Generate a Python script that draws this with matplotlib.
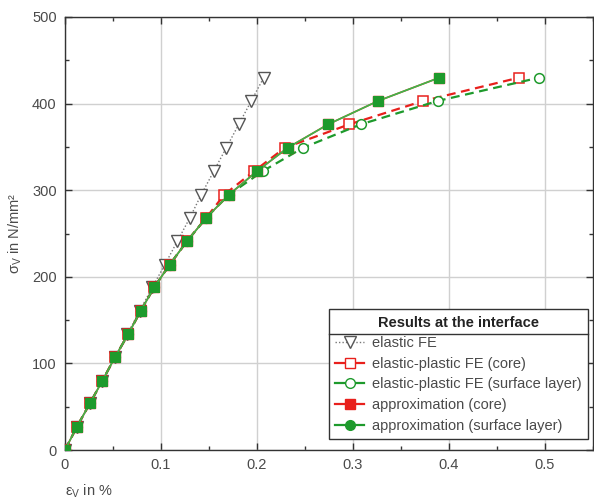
import matplotlib
matplotlib.use("Agg")
import matplotlib.pyplot as plt
from matplotlib.lines import Line2D
from matplotlib.ticker import MultipleLocator

plt.rcParams['font.family'] = ['Liberation Sans', 'DejaVu Sans']

# Data
stress = [0, 27, 54, 80, 107, 134, 161, 188, 214, 241, 268, 295, 322, 349, 376, 403, 430]
strain_elastic = [0, 0.013, 0.026, 0.039, 0.052, 0.065, 0.078, 0.091, 0.104, 0.117,
                  0.130, 0.142, 0.155, 0.168, 0.181, 0.194, 0.207]
strain_ep_core = [0, 0.0125, 0.026, 0.039, 0.052, 0.066, 0.079, 0.093, 0.109, 0.127,
                  0.147, 0.166, 0.197, 0.229, 0.296, 0.373, 0.473]
strain_ep_surf = [0, 0.0125, 0.026, 0.039, 0.052, 0.066, 0.079, 0.093, 0.109, 0.127,
                  0.147, 0.171, 0.206, 0.248, 0.308, 0.388, 0.494]
strain_ap_core = [0, 0.0125, 0.026, 0.039, 0.052, 0.066, 0.079, 0.093, 0.109, 0.127,
                  0.147, 0.171, 0.200, 0.232, 0.274, 0.326, 0.390]
strain_ap_surf = [0, 0.0125, 0.026, 0.039, 0.052, 0.066, 0.079, 0.093, 0.109, 0.127,
                  0.147, 0.171, 0.200, 0.232, 0.274, 0.326, 0.390]

labels = ["elastic FE", "elastic-plastic FE (core)", "elastic-plastic FE (surface layer)",
          "approximation (core)", "approximation (surface layer)"]

red = "#e8201c"
green = "#1e9a2c"
txt = "#4a4a4a"
fs = 10.5

fig = plt.figure(figsize=(5.94, 5.0), dpi=100)
ax = fig.add_axes([0.1094, 0.1, 0.889, 0.866])

ax.plot(strain_elastic, stress, linestyle=(0, (1, 1.5)), color="#777777", lw=1.0,
        marker="v", ms=8, mfc="white", mec="#555555", mew=1.0, label=labels[0], zorder=3)
ax.plot(strain_ep_core, stress, linestyle=(0, (4, 2.5)), color=red, lw=1.6,
        marker="s", ms=7, mfc="white", mec=red, mew=1.1, label=labels[1], zorder=4)
ax.plot(strain_ep_surf, stress, linestyle=(0, (4, 2.5)), color=green, lw=1.6,
        marker="o", ms=7, mfc="white", mec=green, mew=1.1, label=labels[2], zorder=4)
ax.plot(strain_ap_core, stress, linestyle="-", color=red, lw=1.2,
        marker="s", ms=7, mfc=red, mec=red, mew=1.0, label=labels[3], zorder=5)
ax.plot(strain_ap_surf, stress, linestyle="-", color="#3cb84a", lw=1.2,
        marker="s", ms=6.5, mfc=green, mec=green, mew=0.8, label=labels[4], zorder=6)

ax.set_xlim(0, 0.55)
ax.set_ylim(0, 500)
ax.xaxis.set_minor_locator(MultipleLocator(0.05))
ax.yaxis.set_major_locator(MultipleLocator(100))
ax.yaxis.set_minor_locator(MultipleLocator(50))
ax.set_xticks([0, 0.1, 0.2, 0.3, 0.4, 0.5])
ax.set_xticklabels(["0", "0.1", "0.2", "0.3", "0.4", "0.5"])
ax.grid(True, which="major", color="#d0d0d0", lw=1.0)
ax.set_axisbelow(True)
ax.tick_params(which="both", direction="in", top=True, right=True, colors="#333333",
               labelcolor=txt, labelsize=fs)
ax.tick_params(which="major", length=5, width=1, pad=6)
ax.tick_params(which="minor", length=3, width=1)
for s in ax.spines.values():
    s.set_color("#333333")
    s.set_linewidth(1.0)

ax.set_xlabel(r"$\mathregular{\varepsilon_V}$ in %", color=txt, fontsize=fs)
ax.xaxis.set_label_coords(0.0, -0.075)
ax.xaxis.label.set_horizontalalignment("left")
ax.set_ylabel(r"$\mathregular{\sigma_V}$ in N/mm²", color=txt, fontsize=fs, labelpad=6)

h = [
    Line2D([], [], linestyle=(0, (1, 1.5)), color="#777777", lw=1.0, marker="v", ms=8,
           mfc="white", mec="#555555"),
    Line2D([], [], linestyle="-", color=red, lw=1.6, marker="s", ms=7, mfc="white", mec=red),
    Line2D([], [], linestyle="-", color=green, lw=1.6, marker="o", ms=7, mfc="white", mec=green),
    Line2D([], [], linestyle="-", color=red, lw=1.6, marker="s", ms=7, mfc=red, mec=red),
    Line2D([], [], linestyle="-", color=green, lw=1.6, marker="o", ms=7, mfc=green, mec=green),
]
leg = ax.legend(h, labels, loc="lower right", bbox_to_anchor=(0.99, 0.025),
                title="Results at the interface", fontsize=fs,
                title_fontproperties={"weight": "bold", "size": fs},
                frameon=True, fancybox=False, edgecolor="#333333", framealpha=1,
                handlelength=2.0, handletextpad=0.5, borderpad=0.45, labelspacing=0.45,
                borderaxespad=0)
for t in leg.get_texts():
    t.set_color(txt)
leg.get_title().set_color("#222222")
leg.get_frame().set_linewidth(1.0)
leg.set_zorder(10)

fig.canvas.draw()
r = fig.canvas.get_renderer()
lb = leg.get_window_extent(r)
tb = leg.get_title().get_window_extent(r)
ysep = tb.y0 - 4
W, H = fig.bbox.width, fig.bbox.height
fig.add_artist(Line2D([lb.x0 / W, lb.x1 / W], [ysep / H, ysep / H], color="#333333", lw=1.0,
                      transform=fig.transFigure, zorder=11))

fig.savefig("out.png", dpi=100)
